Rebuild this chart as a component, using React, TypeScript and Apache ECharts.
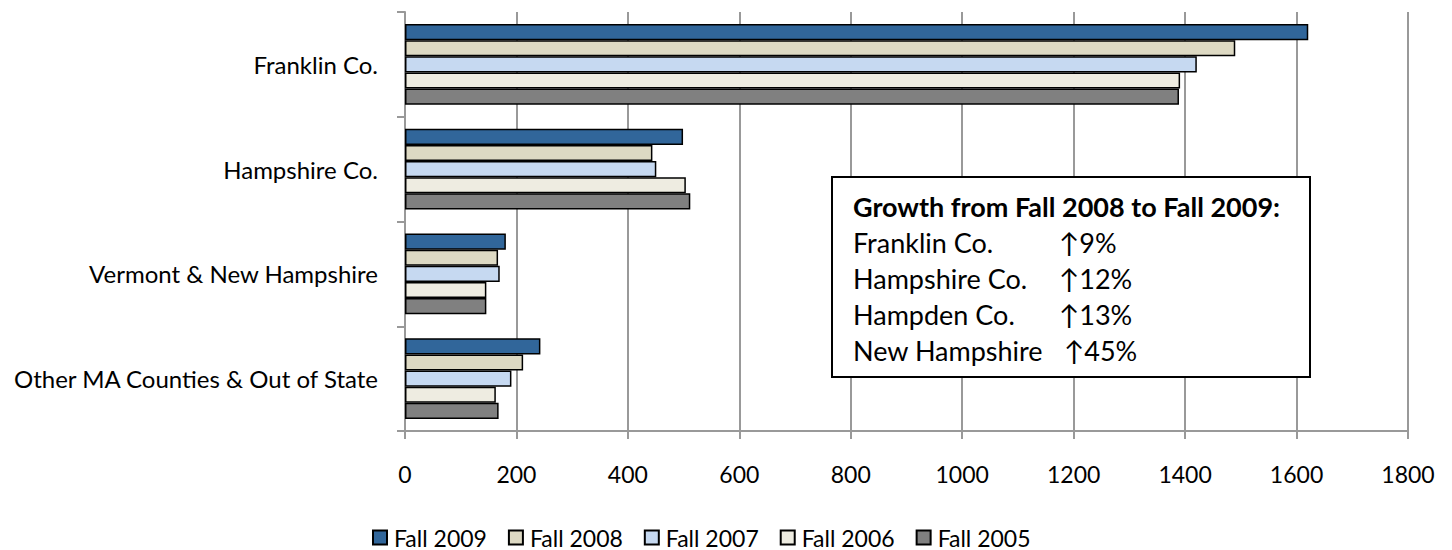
import React, { useEffect, useRef } from "react";
import * as echarts from "echarts";

const categories = [
  "Franklin Co.",
  "Hampshire Co.",
  "Vermont & New Hampshire",
  "Other MA Counties & Out of State",
];
const seriesNames = ["Fall 2009", "Fall 2008", "Fall 2007", "Fall 2006", "Fall 2005"];
const fall2009 = [1621, 499, 181, 243];
const fall2008 = [1490, 444, 167, 212];
const fall2007 = [1421, 451, 170, 191];
const fall2006 = [1391, 504, 146, 163];
const fall2005 = [1389, 512, 146, 168];
const seriesColors = ["#31669a", "#ddd9c3", "#c6d9f1", "#eeece1", "#808080"];
const boxTitle = "Growth from Fall 2008 to Fall 2009:";
const boxRegions = ["Franklin Co.", "Hampshire Co.", "Hampden Co.", "New Hampshire"];
const boxGrowth = ["↑9%", "↑12%", "↑13%", "↑45%"];

const FONT = "Lato, 'Open Sans', sans-serif";

export default function App() {
  const ref = useRef<HTMLDivElement>(null);
  useEffect(() => {
    if (!ref.current) return;
    const chart = echarts.init(ref.current, null, { renderer: "svg" });
    const values = [fall2009, fall2008, fall2007, fall2006, fall2005];
    const graphicEls: any[] = [
      {
        type: "rect",
        shape: { x: 832, y: 177, width: 478, height: 200 },
        style: { fill: "#fff", stroke: "#000", lineWidth: 2 },
        z: 100,
      },
      {
        type: "text",
        x: 853,
        y: 206,
        style: {
          text: boxTitle,
          font: `bold 27px ${FONT}`,
          fill: "#000",
          verticalAlign: "middle",
        },
        z: 101,
      },
    ];
    boxRegions.forEach((r, i) => {
      graphicEls.push({
        type: "text",
        x: 853,
        y: 242 + i * 36,
        style: { text: r, font: `27px ${FONT}`, fill: "#000", verticalAlign: "middle" },
        z: 101,
      });
      graphicEls.push({
        type: "text",
        x: i === 3 ? 1064 : 1059,
        y: 242 + i * 36,
        style: { text: boxGrowth[i], font: `27px ${FONT}`, fill: "#000", verticalAlign: "middle" },
        z: 101,
      });
    });
    chart.setOption({
      animation: false,
      textStyle: { fontFamily: FONT },
      grid: { left: 405, right: 44, top: 12, bottom: 119, containLabel: false },
      legend: {
        data: seriesNames,
        left: 372,
        top: 526,
        icon: "rect",
        itemWidth: 14,
        itemHeight: 14,
        itemGap: 21,
        padding: 0,
        textStyle: {
          fontSize: 23,
          lineHeight: 20,
          color: "#000",
          fontFamily: FONT,
          padding: [0, 0, 0, 2],
        },
      },
      xAxis: {
        type: "value",
        min: 0,
        max: 1800,
        interval: 200,
        axisLine: { show: true, lineStyle: { color: "#999", width: 2 } },
        axisTick: { show: true, length: 8, lineStyle: { color: "#999", width: 2 } },
        splitLine: { show: true, lineStyle: { color: "#999", width: 2 } },
        axisLabel: {
          fontSize: 23,
          color: "#000",
          margin: 31,
          fontFamily: FONT,
          formatter: (v: number) => String(v),
        },
      },
      yAxis: {
        type: "category",
        data: categories,
        inverse: true,
        axisLine: { show: true, lineStyle: { color: "#999", width: 2 } },
        axisTick: { show: true, length: 8, lineStyle: { color: "#999", width: 2 } },
        axisLabel: { fontSize: 24, color: "#000", margin: 27, fontFamily: FONT },
      },
      series: seriesNames.map((name, i) => ({
        name,
        type: "bar",
        data: values[i],
        barGap: "0%",
        barCategoryGap: "23%",
        itemStyle: { color: seriesColors[i], borderColor: "#000", borderWidth: 1.5 },
      })),
      graphic: graphicEls,
    });
    return () => chart.dispose();
  }, []);
  return <div ref={ref} style={{ width: 1452, height: 550, position: "absolute", left: 0, top: 0 }} />;
}
